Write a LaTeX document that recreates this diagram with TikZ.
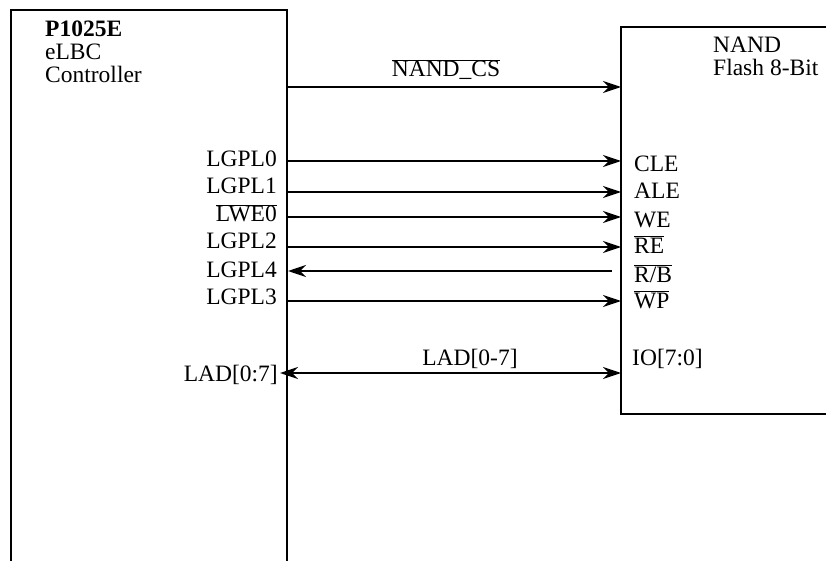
\documentclass[tikz,border=0pt]{standalone}
\usepackage{fontspec}
\setmainfont{Liberation Serif}
\usetikzlibrary{arrows.meta, positioning}
\tikzset{
    chip/.style={line width=2pt},
    pin/.style={inner sep=0pt, font=\fontsize{23.5}{23}\selectfont},
    title/.style={pin, align=left, anchor=north west},
    sig/.style={line width=1.9pt},
    >={Stealth[length=18pt, width=12pt, inset=6pt]}
}

\begin{document}
\begin{tikzpicture}[x=1pt, y=-1pt]
        \useasboundingbox (0,0) rectangle (826,561);
        \clip (0,0) rectangle (826,561);

        % Controller box, open at the bottom
        \draw[chip] (11,575) -- (11,10) -- (287,10) -- (287,575);
        % NAND box, cut at the right
        \draw[chip] (840,27) -- (621,27) -- (621,414) -- (840,414);

        % Box titles
        \node[title] (CtrlName) at (45,21) {\textbf{P1025E}\\eLBC\\Controller};
        \node[title] (NandName) at (713,37) {NAND\\Flash 8-Bit};

        % Ports on the controller side
        \coordinate (CsOut) at (287,87);
        \coordinate (Gpl0) at (287,161);
        \coordinate (Gpl1) at (287,192);
        \coordinate (We0) at (287,217);
        \coordinate (Gpl2) at (287,247);
        \coordinate (Gpl4) at (288,271);
        \coordinate (Gpl3) at (287,301);
        \coordinate (LadL) at (280,373);

        % Ports on the NAND side
        \coordinate (CsIn) at (621,87);
        \coordinate (Cle) at (621,161);
        \coordinate (Ale) at (621,192);
        \coordinate (WeIn) at (621,217);
        \coordinate (ReIn) at (621,247);
        \coordinate (RbOut) at (612,271);
        \coordinate (WpIn) at (621,301);
        \coordinate (Io) at (621,373);

        % Controller pin names
        \node[pin, anchor=base east] (LGpl0) at (277,167) {LGPL0};
        \node[pin, anchor=base east] (LGpl1) at (277,194) {LGPL1};
        \node[pin, anchor=base east] (LWe0) at (277,222) {$\overline{\mbox{LWE0}}$};
        \node[pin, anchor=base east] (LGpl2) at (277,248) {LGPL2};
        \node[pin, anchor=base east] (LGpl4) at (277,277) {LGPL4};
        \node[pin, anchor=base east] (LGpl3) at (277,304) {LGPL3};
        \node[pin, anchor=base east] (LLad) at (278,381) {LAD[0:7]};

        % NAND pin names
        \node[pin, anchor=base west] (RCle) at (634,172) {CLE};
        \node[pin, anchor=base west] (RAle) at (634,199) {ALE};
        \node[pin, anchor=base west] (RWe) at (634,227) {WE};
        \node[pin, anchor=base west] (RRe) at (634,253) {$\overline{\mbox{RE}}$};
        \node[pin, anchor=base west] (RRb) at (634,282) {$\overline{\mbox{R/B}}$};
        \node[pin, anchor=base west] (RWp) at (634,308) {$\overline{\mbox{WP}}$};
        \node[pin, anchor=base west] (RIo) at (632,365) {IO[7:0]};

        % Bus names
        \node[pin, anchor=base] (CsName) at (446,77) {$\overline{\mbox{NAND\_CS}}$};
        \node[pin, anchor=base] (BusName) at (470,365) {LAD[0-7]};

        % Connections
        \draw[sig, ->] (CsOut) -- (CsIn);
        \draw[sig, ->] (Gpl0) -- (Cle);
        \draw[sig, ->] (Gpl1) -- (Ale);
        \draw[sig, ->] (We0) -- (WeIn);
        \draw[sig, ->] (Gpl2) -- (ReIn);
        \draw[sig, <-] (Gpl4) -- (RbOut);
        \draw[sig, ->] (Gpl3) -- (WpIn);
        \draw[sig, <->] (LadL) -- (Io);

    \end{tikzpicture}
\end{document}
